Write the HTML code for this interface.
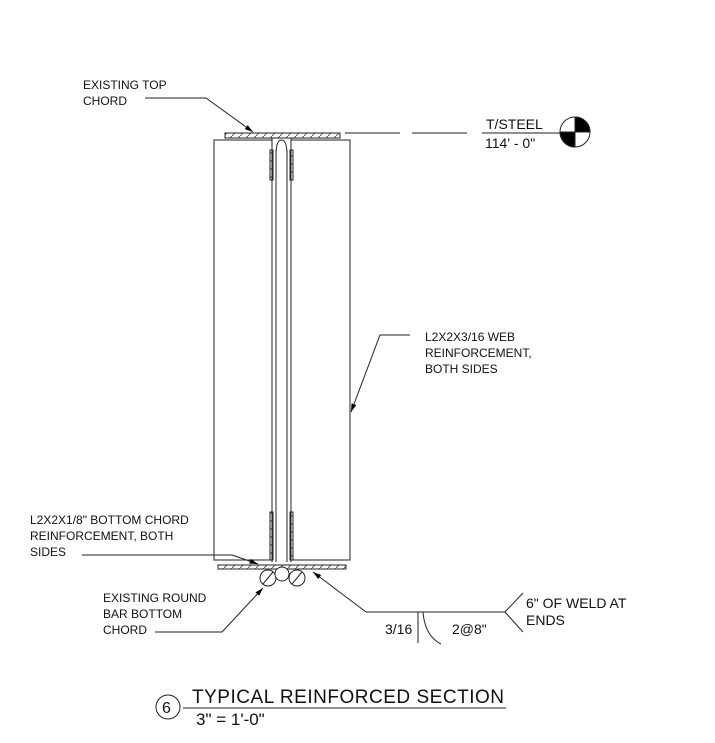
<!DOCTYPE html>
<html><head><style>body{margin:0;background:#fff}svg{display:block}text{font-family:"Liberation Sans",Arial,sans-serif;fill:#111}</style></head>
<body>
<svg width="715" height="743" viewBox="0 0 715 743" xmlns="http://www.w3.org/2000/svg">
<defs>
<marker id="a" viewBox="0 0 10 6" refX="10" refY="3" markerWidth="12" markerHeight="5" orient="auto" markerUnits="userSpaceOnUse"><path d="M0,0L10,3L0,6z" fill="#000"/></marker>
<pattern id="h" width="8" height="8" patternUnits="userSpaceOnUse"><path d="M0,8L8,0" stroke="#444" stroke-width="0.8"/></pattern>
</defs>
<g stroke="#222" fill="none" stroke-width="1">
<rect x="225" y="133" width="115" height="5" fill="url(#h)"/>
<rect x="218" y="565" width="128" height="4" fill="url(#h)"/>
<rect x="214" y="140" width="58" height="420" fill="#fff"/>
<rect x="291" y="140" width="59" height="420" fill="#fff"/>
<line x1="272" y1="138" x2="272" y2="562"/>
<line x1="276" y1="150" x2="276" y2="562"/>
<line x1="287" y1="150" x2="287" y2="562"/>
<line x1="291" y1="138" x2="291" y2="562"/>
<path d="M276,155 Q276,140 281.5,140 Q287,140 287,155"/>
<rect x="270" y="150" width="3" height="30" fill="url(#h)"/>
<rect x="290" y="150" width="3" height="30" fill="url(#h)"/>
<rect x="270" y="512" width="3" height="48" fill="url(#h)"/>
<rect x="290" y="512" width="3" height="48" fill="url(#h)"/>
<circle cx="268" cy="578" r="8" fill="#fff"/>
<line x1="263" y1="584" x2="273" y2="572"/>
<circle cx="282" cy="574" r="7" fill="#fff"/>
<circle cx="297" cy="578" r="8" fill="#fff"/>
<line x1="292" y1="584" x2="302" y2="572"/>
<line x1="345" y1="133" x2="472" y2="133" stroke-dasharray="55,12"/>
<line x1="482" y1="133" x2="560" y2="133"/>
<circle cx="575" cy="132" r="15"/>
<path d="M575,117 A15,15 0 0 1 590,132 L575,132Z" fill="#000"/>
<path d="M575,147 A15,15 0 0 1 560,132 L575,132Z" fill="#000"/>
<polyline points="145,98 206,98 253,132" marker-end="url(#a)"/>
<polyline points="410,335 380,335 351,412" marker-end="url(#a)"/>
<polyline points="82,555 232,555 258,564" marker-end="url(#a)"/>
<polyline points="155,632 222,632 263,588" marker-end="url(#a)"/>
<polyline points="366,612 313,572" marker-end="url(#a)"/>
<line x1="366" y1="612" x2="505" y2="612"/>
<line x1="418" y1="612" x2="418" y2="643"/>
<path d="M423,612 Q425,636 441,644"/>
<line x1="505" y1="612" x2="523" y2="593"/>
<line x1="505" y1="612" x2="523" y2="632"/>
<circle cx="168" cy="707" r="12"/>
<line x1="183" y1="708" x2="506" y2="708"/>
</g>
<g font-size="12">
<text x="83" y="89">EXISTING TOP</text>
<text x="83" y="105">CHORD</text>
<text x="425" y="341">L2X2X3/16 WEB</text>
<text x="425" y="357">REINFORCEMENT,</text>
<text x="425" y="373">BOTH SIDES</text>
<text x="30" y="524">L2X2X1/8" BOTTOM CHORD</text>
<text x="30" y="540">REINFORCEMENT, BOTH</text>
<text x="30" y="556">SIDES</text>
<text x="103" y="602">EXISTING ROUND</text>
<text x="103" y="618">BAR BOTTOM</text>
<text x="103" y="634">CHORD</text>
</g>
<g font-size="14">
<text x="486" y="129">T/STEEL</text>
<text x="485" y="148">114' - 0"</text>
<text x="526" y="608">6" OF WELD AT</text>
<text x="526" y="625">ENDS</text>
<text x="385" y="634">3/16</text>
<text x="452" y="634">2@8"</text>
<text x="162" y="713" font-size="16">6</text>
</g>
<text x="192" y="703" font-size="19" textLength="312">TYPICAL REINFORCED SECTION</text>
<text x="196" y="725" font-size="17">3" = 1'-0"</text>
</svg>
</body></html>
